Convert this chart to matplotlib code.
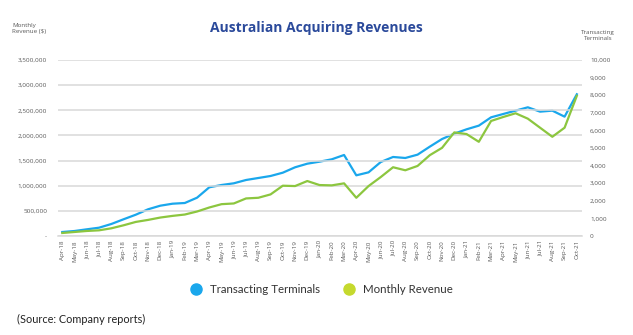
import matplotlib
matplotlib.use("Agg")
import matplotlib.pyplot as plt
from matplotlib.ticker import FuncFormatter
from matplotlib.lines import Line2D
import numpy as np

months = ["Apr-18", "May-18", "Jun-18", "Jul-18", "Aug-18", "Sep-18", "Oct-18", "Nov-18",
          "Dec-18", "Jan-19", "Feb-19", "Mar-19", "Apr-19", "May-19", "Jun-19", "Jul-19",
          "Aug-19", "Sep-19", "Oct-19", "Nov-19", "Dec-19", "Jan-20", "Feb-20", "Mar-20",
          "Apr-20", "May-20", "Jun-20", "Jul-20", "Aug-20", "Sep-20", "Oct-20", "Nov-20",
          "Dec-20", "Jan-21", "Feb-21", "Mar-21", "Apr-21", "May-21", "Jun-21", "Jul-21",
          "Aug-21", "Sep-21", "Oct-21"]

# monthly revenue ($), left axis
revenue = [60000, 80000, 100000, 113000, 153000, 213000, 280000, 320000, 367000, 400000,
           427000, 487000, 567000, 633000, 647000, 747000, 760000, 827000, 1000000, 993000,
           1093000, 1013000, 1007000, 1047000, 760000, 993000, 1173000, 1367000, 1307000,
           1393000, 1607000, 1753000, 2060000, 2027000, 1873000, 2287000, 2367000, 2440000,
           2333000, 2153000, 1973000, 2153000, 2787000]

# transacting terminals, right axis
terminals = [227, 284, 380, 472, 682, 950, 1210, 1517, 1722, 1835, 1875, 2176, 2767, 2898,
             2994, 3182, 3295, 3409, 3597, 3903, 4108, 4222, 4358, 4602, 3447, 3617, 4205,
             4489, 4432, 4621, 5076, 5511, 5814, 6061, 6269, 6742, 6932, 7121, 7311, 7064,
             7121, 6780, 8051]

BLUE = "#1AA7EC"
GREEN = "#8CC63F"
GRID = "#D9D9D9"
TICK = "#595959"

plt.rcParams["font.family"] = ["Open Sans", "DejaVu Sans"]

fig = plt.figure(figsize=(6.33, 3.35), dpi=100)
ax = fig.add_axes([0.092, 0.2955, 0.827, 0.5255])
ax2 = ax.twinx()

x = np.arange(len(months))
ax.plot(x, revenue, color=GREEN, lw=1.6, zorder=3)
ax2.plot(x, terminals, color=BLUE, lw=1.6, zorder=3)

ax.set_ylim(0, 3500000)
ax2.set_ylim(0, 10000)
ax.set_xlim(-0.33, len(months) - 0.6)
ax.set_yticks(np.arange(0, 3500001, 500000))
ax2.set_yticks(np.arange(0, 10001, 1000))
ax.yaxis.set_major_formatter(FuncFormatter(lambda v, p: "-" if v == 0 else f"{int(v):,}"))
ax2.yaxis.set_major_formatter(FuncFormatter(lambda v, p: f"{int(v):,}"))

ax.set_xticks(x)
ax.set_xticklabels(months, rotation=90, fontsize=4.5, color=TICK)
ax.tick_params(axis="y", labelsize=4.6, labelcolor=TICK, length=0, pad=8)
ax2.tick_params(axis="y", labelsize=4.6, labelcolor=TICK, length=0, pad=6)
ax.tick_params(axis="x", length=0, pad=3)

ax.grid(axis="y", color=GRID, lw=1.1, zorder=0)
ax.set_axisbelow(True)
for a in (ax, ax2):
    for s in a.spines.values():
        s.set_visible(False)
ax.spines["bottom"].set_visible(True)
ax.spines["bottom"].set_color(GRID)
ax.spines["bottom"].set_linewidth(1.1)
ax.set_zorder(ax2.get_zorder() + 1)
ax.patch.set_visible(False)

fig.text(0.5, 0.915, "Australian Acquiring Revenues", ha="center", va="center",
         fontsize=10, fontweight="bold", color="#2B4A9B")
fig.text(0.019, 0.915, "Monthly\nRevenue ($)", ha="left", va="center",
         fontsize=4.5, color=TICK, linespacing=1.2)
fig.text(0.945, 0.895, "Transacting\nTerminals", ha="center", va="center",
         fontsize=4.5, color=TICK, linespacing=1.2)

handles = [Line2D([], [], marker="o", ls="", color=BLUE, markersize=8),
           Line2D([], [], marker="o", ls="", color="#C5D92E", markersize=8)]
fig.legend(handles, ["Transacting Terminals", "Monthly Revenue"], loc="center",
           bbox_to_anchor=(0.503, 0.135), ncol=2, frameon=False, fontsize=8,
           handletextpad=0.2, columnspacing=1.5, labelcolor="#333333",
           prop={"family": ["Lato", "DejaVu Sans"], "size": 8.3})

fig.text(0.027, 0.045, "(Source: Company reports)", ha="left", va="center",
         fontsize=7.8, color="#222222", family=["Lato", "DejaVu Sans"])

fig.savefig("out.png", dpi=100)
